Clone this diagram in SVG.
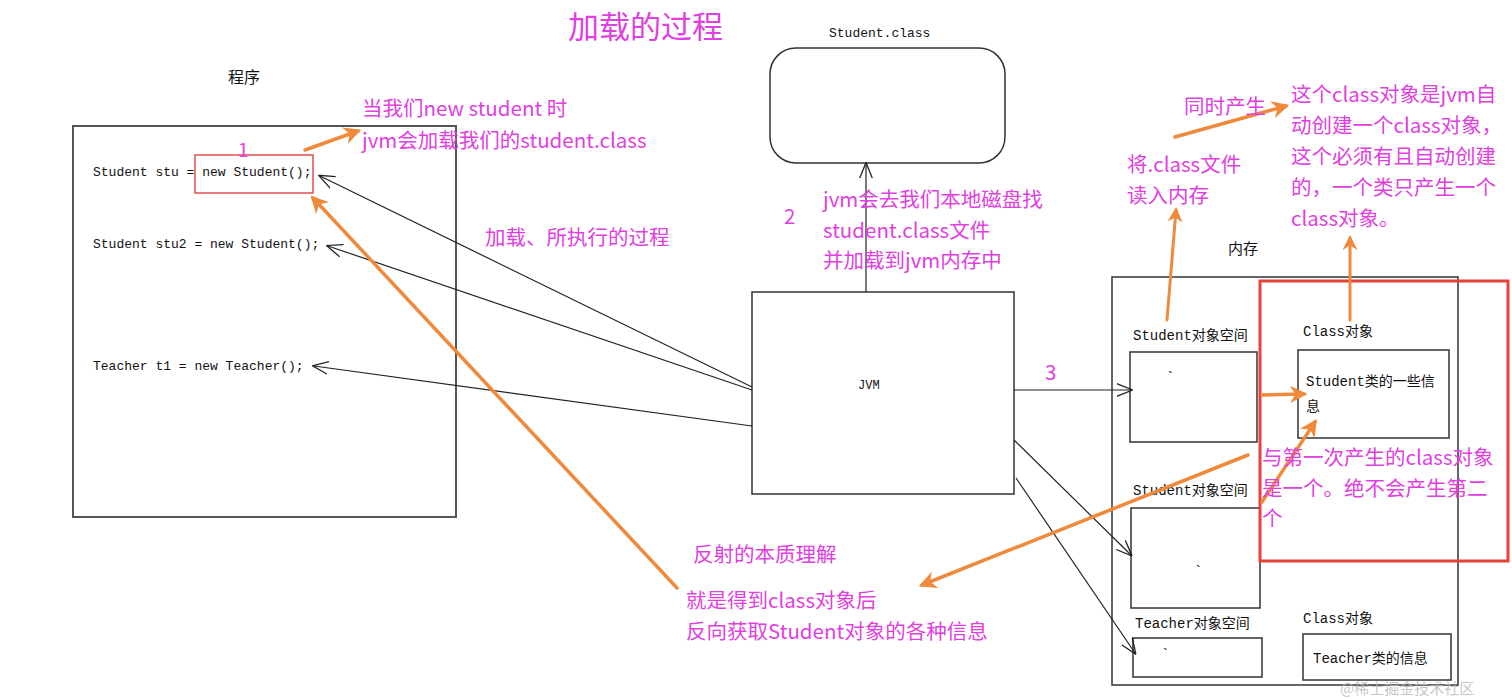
<svg xmlns="http://www.w3.org/2000/svg" width="1512" height="699" viewBox="0 0 1512 699">
<style>
.mg{fill:#e040e0;font-family:"Noto Sans CJK SC","Liberation Sans",sans-serif;font-size:20.5px}
.code{fill:#111;font-family:"Liberation Mono","Noto Sans CJK SC",monospace;font-size:13px}
.lbl{fill:#111;font-family:"Liberation Mono","Noto Sans CJK SC",monospace;font-size:14px}
.box{fill:none;stroke:#333;stroke-width:1.5}
.blk{stroke:#222;stroke-width:1.2;fill:none}
.org{stroke:#ef8a3c;fill:none;stroke-linecap:round}
</style>
<defs>
<marker id="oa" viewBox="0 0 10 10" refX="9" refY="5" markerWidth="16" markerHeight="16" orient="auto" markerUnits="userSpaceOnUse"><path d="M0,1 L10,5 L0,9" fill="none" stroke="#222" stroke-width="0.8"/></marker>
<marker id="or" viewBox="0 0 10 10" refX="8" refY="5" markerWidth="5" markerHeight="5" orient="auto"><path d="M0,0 L10,5 L0,10 L3,5 Z" fill="#ef8a3c"/></marker>
</defs>
<rect width="1512" height="699" fill="#fff"/>

<text class="mg" x="568" y="38" style="font-size:31px">加载的过程</text>

<g id="program">
<text x="228" y="83" style="font-family:'Noto Sans CJK SC',sans-serif;font-size:16px;fill:#111">程序</text>
<rect x="73" y="126" width="383" height="391" fill="none" stroke="#555" stroke-width="2"/>
<rect x="195" y="155" width="118" height="38" fill="none" stroke="#e05050" stroke-width="1.5"/>
<text class="code" x="93" y="176">Student stu = new Student();</text>
<text class="code" x="93" y="248">Student stu2 = new Student();</text>
<text class="code" x="93" y="370">Teacher t1 = new Teacher();</text>
<text class="mg" x="238" y="157" style="font-size:19px">1</text>
</g>

<g id="studentclass">
<text class="code" x="829" y="37">Student.class</text>
<rect x="770" y="48" width="235" height="115" rx="26" class="box"/>
</g>

<g id="jvm">
<rect x="752" y="292" width="262" height="202" class="box"/>
<text class="code" x="858" y="389" style="font-size:12px">JVM</text>
</g>

<g id="memory">
<text x="1228" y="254" style="font-family:'Noto Sans CJK SC',sans-serif;font-size:15px;fill:#111">内存</text>
<rect x="1112" y="277" width="346" height="408" class="box"/>
<text class="lbl" x="1133" y="340">Student对象空间</text>
<rect x="1130" y="352" width="127" height="90" class="box"/>
<text class="lbl" x="1166" y="382">`</text>
<text class="lbl" x="1133" y="495">Student对象空间</text>
<rect x="1131" y="508" width="129" height="100" class="box"/>
<text class="lbl" x="1194" y="576">`</text>
<text class="lbl" x="1135" y="628">Teacher对象空间</text>
<rect x="1133" y="638" width="129" height="39" class="box"/>
<text class="lbl" x="1161" y="659">`</text>
<text class="lbl" x="1303" y="336">Class对象</text>
<rect x="1298" y="350" width="151" height="88" class="box"/>
<text class="lbl" x="1306" y="386">Student类的一些信</text>
<text class="lbl" x="1306" y="411">息</text>
<text class="lbl" x="1303" y="623">Class对象</text>
<rect x="1303" y="634" width="148" height="46" class="box"/>
<text class="lbl" x="1313" y="663">Teacher类的信息</text>
<rect x="1260" y="281" width="248" height="280" fill="none" stroke="#e8403a" stroke-width="3"/>
</g>

<g id="connectors">
<line x1="752" y1="387" x2="320" y2="176" class="blk" marker-end="url(#oa)"/>
<line x1="752" y1="390" x2="328" y2="246" class="blk" marker-end="url(#oa)"/>
<line x1="752" y1="426" x2="314" y2="366" class="blk" marker-end="url(#oa)"/>
<line x1="866" y1="292" x2="866" y2="164" class="blk" marker-end="url(#oa)"/>
<line x1="1014" y1="390" x2="1131" y2="390" class="blk" marker-end="url(#oa)"/>
<line x1="1014" y1="440" x2="1131" y2="555" class="blk" marker-end="url(#oa)"/>
<line x1="1016" y1="478" x2="1135" y2="653" class="blk" marker-end="url(#oa)"/>

<line x1="305" y1="150" x2="358" y2="131" class="org" stroke-width="3.5" marker-end="url(#or)"/>
<line x1="677" y1="588" x2="313" y2="198" class="org" stroke-width="3.5" marker-end="url(#or)"/>
<line x1="1167" y1="320" x2="1176" y2="210" class="org" stroke-width="3" marker-end="url(#or)"/>
<line x1="1350" y1="320" x2="1350" y2="238" class="org" stroke-width="3" marker-end="url(#or)"/>
<line x1="1175" y1="137" x2="1286" y2="106" class="org" stroke-width="3.5" marker-end="url(#or)"/>
<line x1="1262" y1="395" x2="1304" y2="394" class="org" stroke-width="3.5" marker-end="url(#or)"/>
<line x1="1262" y1="502" x2="1315" y2="422" class="org" stroke-width="3.5" marker-end="url(#or)"/>
<line x1="1248" y1="455" x2="922" y2="585" class="org" stroke-width="3.5" marker-end="url(#or)"/>
</g>

<g id="notes">
<text class="mg" x="362" y="116">当我们new student 时</text>
<text class="mg" x="362" y="148">jvm会加载我们的student.class</text>
<text class="mg" x="485" y="245">加载、所执行的过程</text>
<text class="mg" x="784" y="224">2</text>
<text class="mg" x="823" y="207">jvm会去我们本地磁盘找</text>
<text class="mg" x="823" y="238">student.class文件</text>
<text class="mg" x="823" y="268">并加载到jvm内存中</text>
<text class="mg" x="1045" y="380">3</text>
<text class="mg" x="1184" y="114">同时产生</text>
<text class="mg" x="1127" y="172">将.class文件</text>
<text class="mg" x="1127" y="203">读入内存</text>
<text class="mg" x="1291" y="102">这个class对象是jvm自</text>
<text class="mg" x="1291" y="133">动创建一个class对象，</text>
<text class="mg" x="1291" y="164">这个必须有且自动创建</text>
<text class="mg" x="1291" y="195">的，一个类只产生一个</text>
<text class="mg" x="1291" y="226">class对象。</text>
<text class="mg" x="1262" y="465">与第一次产生的class对象</text>
<text class="mg" x="1262" y="496">是一个。绝不会产生第二</text>
<text class="mg" x="1262" y="526">个</text>
<text class="mg" x="693" y="562">反射的本质理解</text>
<text class="mg" x="686" y="608">就是得到class对象后</text>
<text class="mg" x="686" y="639">反向获取Student对象的各种信息</text>
</g>

<text x="1340" y="694" style="font-family:'Noto Sans CJK SC',sans-serif;font-size:15px;fill:#b8b8b8;fill-opacity:0.8">@稀土掘金技术社区</text>
</svg>
